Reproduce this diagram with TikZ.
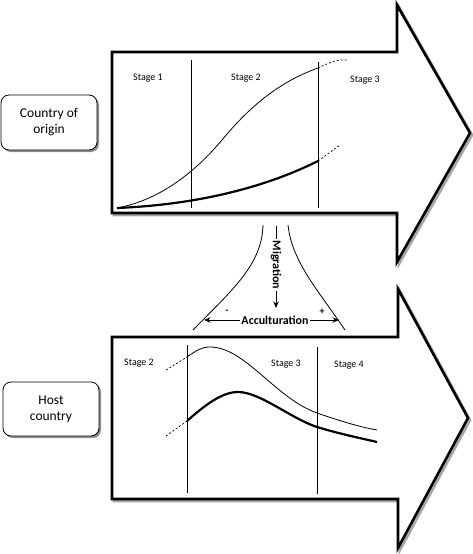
\documentclass[tikz,border=0pt]{standalone}
\usepackage{fontspec}
\setmainfont{Carlito}
\usetikzlibrary{arrows.meta}
\tikzset{
  bigarrow/.style={line width=2.6pt, line join=miter, fill=white, draw=black},
  arrowshadow/.style={line width=2.6pt, line join=miter, draw=black!35},
  stagelabel/.style={font=\fontsize{10}{12}\selectfont, inner sep=0pt},
  divider/.style={line width=0.7pt},
  thincurve/.style={line width=0.8pt},
  thickcurve/.style={line width=2.2pt},
  dashcurve/.style={line width=0.7pt, dash pattern=on 2pt off 2pt},
  countrybox/.style={draw, rounded corners=8pt, line width=0.8pt, fill=white,
     minimum width=96pt, minimum height=55pt, align=center,
     font=\fontsize{13.5}{16}\selectfont, inner sep=2pt},
  boxshadow/.style={fill=black!45, rounded corners=8pt},
  boldlabel/.style={font=\bfseries\fontsize{12}{14}\selectfont, fill=white, inner sep=1.5pt},
  flow/.style={line width=0.9pt, -{Stealth[length=6.5pt,width=5.5pt]}},
}
\begin{document}
\begin{tikzpicture}[x=1pt,y=-1pt]
\useasboundingbox (0,0) rectangle (472,554);

% ---------- top arrow ----------
\draw[arrowshadow, shift={(2,2)}] (112,52) -- (397,52) -- (397,5) -- (470,133) -- (397,262) -- (397,213) -- (112,213) -- cycle;
\draw[bigarrow] (112,52) -- (397,52) -- (397,5) -- (470,133) -- (397,262) -- (397,213) -- (112,213) -- cycle;

\coordinate (t1a) at (191,60);  \coordinate (t1b) at (191,208);
\coordinate (t2a) at (318,62);  \coordinate (t2b) at (318,208);
\draw[divider] (t1a) -- (t1b);
\draw[divider] (t2a) -- (t2b);

\node[stagelabel] (s1) at (148,78) {Stage 1};
\node[stagelabel] (s2) at (246,78) {Stage 2};
\node[stagelabel] (s3) at (365,80) {Stage 3};

\draw[thincurve] (117,208) .. controls (160,200) and (195,172) .. (222,140)
                 .. controls (255,100) and (285,80) .. (318,68);
\draw[dashcurve] (318,68) .. controls (330,62) and (340,59) .. (347,60);
\draw[thickcurve] (117,208) .. controls (190,205) and (260,190) .. (318,161);
\draw[dashcurve] (318,161) -- (340,145);

\fill[boxshadow] (3,97) rectangle (99,152);
\node[countrybox] (origin) at (49,122.5) {Country of\\origin};

% ---------- migration / acculturation ----------
\draw[line width=0.8pt] (263,225) .. controls (262,265) and (232,290) .. (193,330);
\draw[line width=0.8pt] (288,225) .. controls (292,262) and (318,290) .. (345,330);

\coordinate (mtop) at (276,226);
\coordinate (mbot) at (276,308);
\draw[flow] (mtop) -- (mbot);
\node[boldlabel, rotate=-90] (migr) at (276,265) {Migration};

\coordinate (aleft) at (204,320);
\coordinate (aright) at (339,320);
\draw[flow, {Stealth[length=6.5pt,width=5.5pt]}-{Stealth[length=6.5pt,width=5.5pt]}] (aleft) -- (aright);
\node[boldlabel] (accu) at (275,320) {Acculturation};
\node[font=\bfseries\fontsize{10}{12}\selectfont, inner sep=0pt] (minus) at (227,312) {-};
\node[font=\bfseries\fontsize{10}{12}\selectfont, inner sep=0pt] (plus) at (322,312) {+};

% ---------- bottom arrow ----------
\draw[arrowshadow, shift={(2,2)}] (112,337) -- (398,337) -- (398,289) -- (468,418) -- (398,548) -- (398,499) -- (112,499) -- cycle;
\draw[bigarrow] (112,337) -- (398,337) -- (398,289) -- (468,418) -- (398,548) -- (398,499) -- (112,499) -- cycle;

\coordinate (b1a) at (187,345);  \coordinate (b1b) at (187,493);
\coordinate (b2a) at (317,347);  \coordinate (b2b) at (317,494);
\draw[divider] (b1a) -- (b1b);
\draw[divider] (b2a) -- (b2b);

\node[stagelabel] (h2) at (139,363) {Stage 2};
\node[stagelabel] (h3) at (286,364) {Stage 3};
\node[stagelabel] (h4) at (349,365) {Stage 4};

\draw[dashcurve] (166,370) -- (187,357);
\draw[thincurve] (187,357) .. controls (197,350) and (202,347) .. (210,347)
                 .. controls (245,347) and (275,398) .. (317,413)
                 .. controls (340,421) and (360,427) .. (377,430);
\draw[dashcurve] (166,436) -- (187,421);
\draw[thickcurve] (187,421) .. controls (205,405) and (222,392) .. (238,392)
                  .. controls (260,392) and (290,418) .. (317,427)
                  .. controls (340,434) and (360,438) .. (377,442);

\fill[boxshadow] (5,384) rectangle (101,438);
\node[countrybox, minimum height=54pt] (host) at (51,409) {Host\\country};
\end{tikzpicture}
\end{document}
